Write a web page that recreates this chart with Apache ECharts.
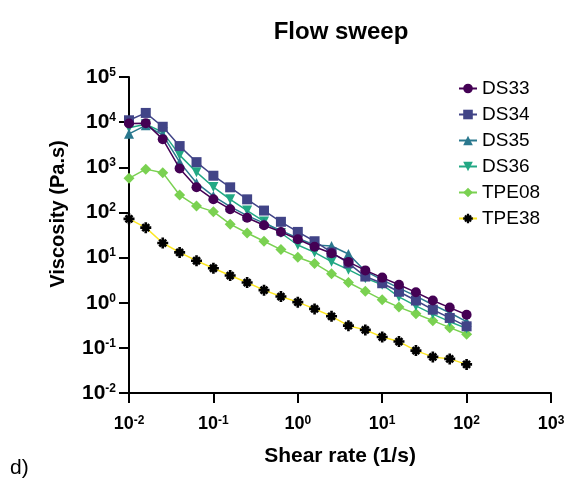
<!DOCTYPE html>
<html><head><meta charset="utf-8">
<script src="https://cdn.jsdelivr.net/npm/echarts@6/dist/echarts.min.js"></script>
<style>html,body{margin:0;padding:0;background:#fff}#c{width:571px;height:485px}</style>
</head><body><div id="c"></div>
<script>
// Shear rate (1/s)
const shearRate = [0.01, 0.0158, 0.0251, 0.0398, 0.0631, 0.1, 0.158, 0.251, 0.398, 0.631, 1, 1.58, 2.51, 3.98, 6.31, 10, 15.8, 25.1, 39.8, 63.1, 100];
// Viscosity (Pa.s)
const ds33  = [9300, 9500, 4200, 940, 360, 195, 118, 76, 52, 37, 25.4, 17.4, 12.5, 8, 5.2, 3.6, 2.5, 1.7, 1.12, 0.78, 0.54];
const ds34  = [11000, 16000, 7900, 2950, 1300, 650, 360, 195, 110, 62, 37, 23, 13, 7.5, 3.8, 2.7, 1.75, 1.12, 0.70, 0.46, 0.30];
const ds35  = [5500, 8500, 5200, 1300, 450, 230, 135, 85, 58, 40, 27, 19, 18, 12, 5, 3.2, 2.1, 1.4, 0.9, 0.6, 0.38];
const ds36  = [7500, 9000, 6000, 1860, 780, 365, 195, 110, 63, 35, 19, 13, 8.1, 5.4, 3.5, 2.5, 1.35, 0.85, 0.56, 0.38, 0.27];
const tpe08 = [570, 910, 760, 243, 138, 104, 55, 35, 23, 15, 10.2, 7.4, 4.4, 2.8, 1.8, 1.16, 0.8, 0.57, 0.40, 0.28, 0.2];
const tpe38 = [72, 46, 21, 13, 8.5, 5.8, 4.0, 2.8, 1.9, 1.37, 1.03, 0.73, 0.50, 0.31, 0.25, 0.174, 0.138, 0.087, 0.063, 0.057, 0.043];
const seriesNames = ['DS33', 'DS34', 'DS35', 'DS36', 'TPE08', 'TPE38'];

const FONT = '"Liberation Sans", Arial, Helvetica, sans-serif';
const asterisk = 'path://M3.8,0 L6.2,0 L6.2,10 L3.8,10 Z M0,3.8 L10,3.8 L10,6.2 L0,6.2 Z M1.0,2.7 L2.7,1.0 L9.0,7.3 L7.3,9.0 Z M7.3,1.0 L9.0,2.7 L2.7,9.0 L1.0,7.3 Z';

function pairs(vals){ return shearRate.map((x,i)=>[x, vals[i]]); }
function pow10(v){ const e = Math.round(Math.log10(v)); return '{b|10}{s|' + e + '}'; }

const styles = [
  {data: ds33, color:'#440154', symbol:'circle', size:10, z:12},
  {data: ds34, color:'#414487', symbol:'rect', size:10, z:11},
  {data: ds35, color:'#2a788e', symbol:'triangle', size:10, z:10},
  {data: ds36, color:'#22a884', symbol:'triangle', size:10, z:9, rotate:180},
  {data: tpe08, color:'#7ad151', symbol:'diamond', size:11, z:8},
  {data: tpe38, color:'#000000', line:'#fde725', symbol:asterisk, size:11, z:7}
];

const chart = echarts.init(document.getElementById('c'), null, {renderer:'canvas'});
chart.setOption({
  animation:false,
  backgroundColor:'#fff',
  grid:{left:129, right:20, top:77, bottom:92, containLabel:false},
  legend:{orient:'vertical', left:453, top:74, itemWidth:18, itemHeight:12, itemGap:7,
    data:seriesNames,
    textStyle:{fontFamily:FONT, fontSize:19, color:'#000'}},
  xAxis:{type:'log', logBase:10, min:0.01, max:1000, splitNumber:5,
    name:'Shear rate (1/s)', nameLocation:'middle', nameGap:53,
    nameTextStyle:{fontFamily:FONT, fontWeight:'bold', fontSize:21, color:'#000'},
    axisLine:{lineStyle:{color:'#000', width:2}},
    axisTick:{length:10, lineStyle:{color:'#000', width:2}},
    splitLine:{show:false}, minorTick:{show:false},
    axisLabel:{margin:22, formatter:pow10, color:'#000',
      rich:{b:{fontFamily:FONT, fontWeight:'bold', fontSize:18, color:'#000'},
            s:{fontFamily:FONT, fontWeight:'bold', fontSize:12, color:'#000', verticalAlign:'top'}}}},
  yAxis:{type:'log', logBase:10, min:0.01, max:100000, splitNumber:7,
    axisLine:{lineStyle:{color:'#000', width:2}},
    axisTick:{length:10, lineStyle:{color:'#000', width:2}},
    splitLine:{show:false}, minorTick:{show:false},
    axisLabel:{margin:13, formatter:pow10, color:'#000',
      rich:{b:{fontFamily:FONT, fontWeight:'bold', fontSize:21, color:'#000'},
            s:{fontFamily:FONT, fontWeight:'bold', fontSize:12, color:'#000', verticalAlign:'top'}}}},
  graphic:[
    {type:'text', x:341, y:32,
      style:{text:'Flow sweep', fontFamily:FONT, fontWeight:'bold', fontSize:24, fill:'#000',
        textAlign:'center', textVerticalAlign:'middle'}},
    {type:'text', x:58, y:214, rotation:Math.PI/2,
      style:{text:'Viscosity (Pa.s)', fontFamily:FONT, fontWeight:'bold', fontSize:20, fill:'#000',
        textAlign:'center', textVerticalAlign:'middle'}},
    {type:'text', x:10, y:468,
      style:{text:'d)', fontFamily:FONT, fontSize:21, fill:'#000', textVerticalAlign:'middle'}}
  ],
  series: styles.map((s,i)=>({
    name:seriesNames[i], type:'line', data:pairs(s.data), z:s.z,
    symbol:s.symbol, symbolSize:s.size, symbolRotate:s.rotate||0,
    showAllSymbol:true,
    itemStyle:{color:s.color},
    lineStyle:{color:s.line||s.color, width:1.5}
  }))
});
</script></body></html>
